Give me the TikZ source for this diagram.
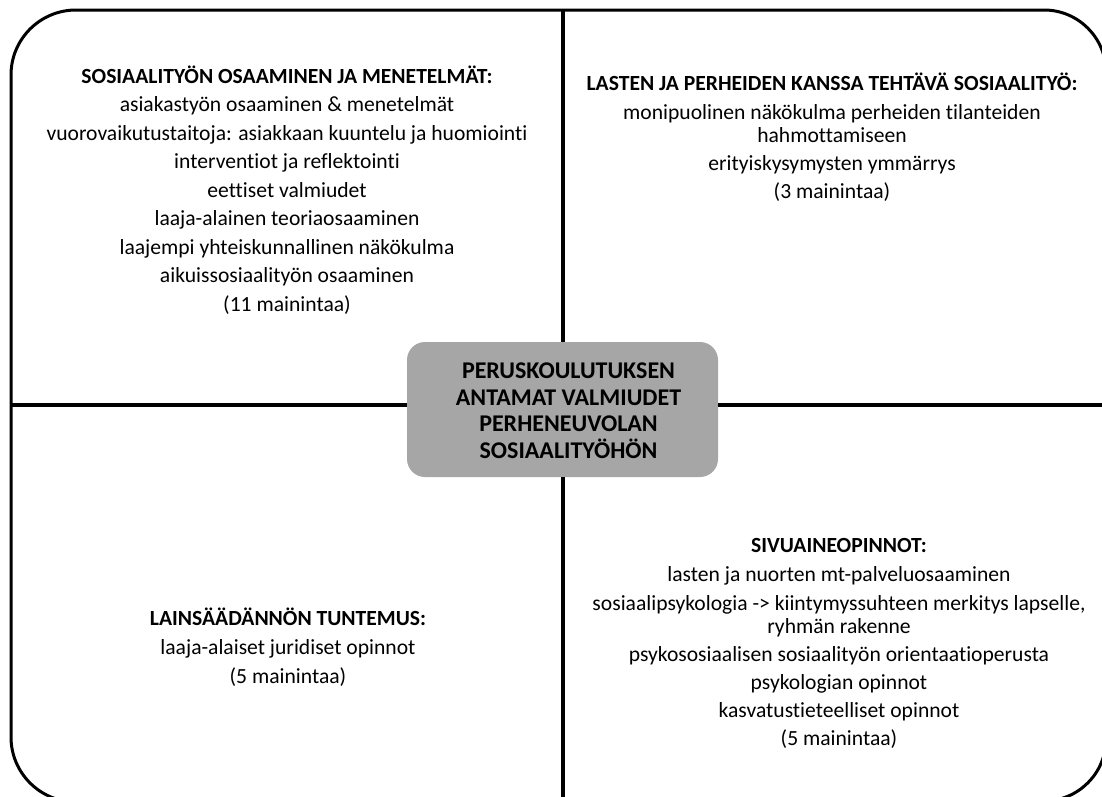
\documentclass[tikz,border=0pt]{standalone}
\usepackage{fontspec}
\setmainfont[Ligatures={NoCommon}]{Carlito}
\definecolor{boxgray}{RGB}{166,166,166}
\tikzset{
  frameline/.style={line width=3pt, black},
  divider/.style={line width=4.5pt, black},
  hub/.style={fill=boxgray, draw=none, rounded corners=18pt, minimum width=311pt, minimum height=135pt, inner sep=0pt},
  hubtxt/.style={inner sep=0pt, align=center, font=\fontsize{24}{26.5}\selectfont\bfseries},
  head/.style={anchor=base, inner sep=0pt, font=\fontsize{21.6}{24}\selectfont\bfseries},
  item/.style={anchor=base, inner sep=0pt, font=\fontsize{21.6}{24}\selectfont}
}
\begin{document}
\begin{tikzpicture}[x=1pt,y=-1pt]
\useasboundingbox (0,0) rectangle (1102,796);
\begin{scope}
\clip (0,0) rectangle (1102,796);
% frame: right and bottom edges lie just beyond the page
\draw[frameline] (1000,10) -- (76,10) arc[start angle=90, end angle=180, radius=65pt] -- (11,737)
  arc[start angle=180, end angle=270, radius=65pt] -- (1000,802);
\draw[frameline] (1000,10) -- (1044,10) arc[start angle=90, end angle=0, radius=62pt] -- (1106,739)
  arc[start angle=0, end angle=-90, radius=62pt] -- (1000,801);
\end{scope}
\coordinate (ftop) at (563,10);
\coordinate (fbot) at (563,802);
\coordinate (fleft) at (11,405);
\coordinate (fright) at (1106,405);
% centre
\node[hub] (center) at (562.5,409.5) {};
\draw[divider] (ftop) -- (ftop |- center.north);
\draw[divider] (fbot) -- (fbot |- center.south);
\draw[divider] (fleft) -- (fleft -| center.west);
\draw[divider] (fright) -- (fright -| center.east);
\node[hubtxt] (hubtext) at ([xshift=6pt,yshift=-1pt]center.center) {PERUSKOULUTUKSEN\\ANTAMAT VALMIUDET\\PERHENEUVOLAN\\SOSIAALITYÖHÖN};
% top left
\node[head] (tl0) at (287,83) {SOSIAALITYÖN OSAAMINEN JA MENETELMÄT:};
\node[item] (tl1) at (287,111.5) {asiakastyön osaaminen \& menetelmät};
\node[item] (tl2) at (287,140) {vuorovaikutustaitoja: asiakkaan kuuntelu ja huomiointi};
\node[item] (tl3) at (287,168.5) {interventiot ja reflektointi};
\node[item] (tl4) at (287,197) {eettiset valmiudet};
\node[item] (tl5) at (287,225.5) {laaja-alainen teoriaosaaminen};
\node[item] (tl6) at (287,254) {laajempi yhteiskunnallinen näkökulma};
\node[item] (tl7) at (287,282.5) {aikuissosiaalityön osaaminen};
\node[item] (tl8) at (287,311) {(11 mainintaa)};
% top right
\node[head] (tr0) at (832,90) {LASTEN JA PERHEIDEN KANSSA TEHTÄVÄ SOSIAALITYÖ:};
\node[item] (tr1) at (832,119) {monipuolinen näkökulma perheiden tilanteiden};
\node[item] (tr2) at (832,142.5) {hahmottamiseen};
\node[item] (tr3) at (832,170.5) {erityiskysymysten ymmärrys};
\node[item] (tr4) at (832,198.5) {(3 mainintaa)};
% bottom left
\node[head] (bl0) at (288,625) {LAINSÄÄDÄNNÖN TUNTEMUS:};
\node[item] (bl1) at (288,654) {laaja-alaiset juridiset opinnot};
\node[item] (bl2) at (288,683) {(5 mainintaa)};
% bottom right
\node[head] (br0) at (839,552) {SIVUAINEOPINNOT:};
\node[item] (br1) at (839,581) {lasten ja nuorten mt-palveluosaaminen};
\node[item] (br2) at (839,610) {sosiaalipsykologia -> kiintymyssuhteen merkitys lapselle,};
\node[item] (br3) at (839,633.5) {ryhmän rakenne};
\node[item] (br4) at (839,661.5) {psykososiaalisen sosiaalityön orientaatioperusta};
\node[item] (br5) at (839,689.5) {psykologian opinnot};
\node[item] (br6) at (839,717.5) {kasvatustieteelliset opinnot};
\node[item] (br7) at (839,745.5) {(5 mainintaa)};
\end{tikzpicture}
\end{document}
